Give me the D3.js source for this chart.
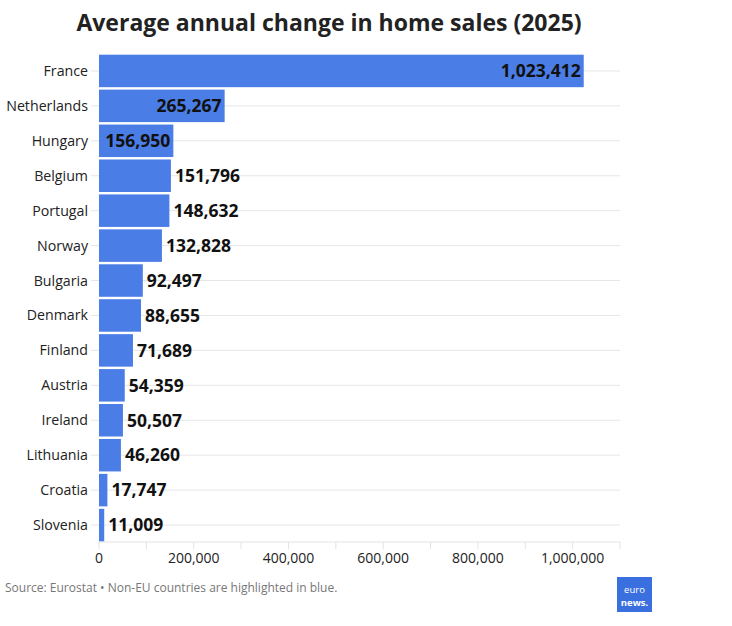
<html>
<head>
<meta charset="utf-8">
<style>
  body { margin: 0; background: #fff; }
  .country { font: 14.2px "Open Sans", sans-serif; fill: #222; }
  .val { font: bold 17.5px "Open Sans", sans-serif; fill: #111; }
  .axis text { font: 14px "Open Sans", sans-serif; fill: #222; }
</style>
</head>
<body>
<script src="https://cdn.jsdelivr.net/npm/d3@7"></script>
<script>
var countries = ["France", "Netherlands", "Hungary", "Belgium", "Portugal", "Norway", "Bulgaria",
                 "Denmark", "Finland", "Austria", "Ireland", "Lithuania", "Croatia", "Slovenia"];
var sales = [1023412, 265267, 156950, 151796, 148632, 132828, 92497,
             88655, 71689, 54359, 50507, 46260, 17747, 11009];
var majorTicks = [0, 200000, 400000, 600000, 800000, 1000000];
var minorTicks = [100000, 300000, 500000, 700000, 900000, 1100000];

var width = 732, height = 626;
var margin = {left: 99, right: 112, top: 54, bottom: 84};

var svg = d3.select("body").append("svg")
    .attr("width", width)
    .attr("height", height);

svg.append("text")
    .attr("x", 329).attr("y", 31)
    .attr("text-anchor", "middle")
    .style("font", "bold 23px 'Open Sans', sans-serif")
    .attr("fill", "#222")
    .text("Average annual change in home sales (2025)");

var x = d3.scaleLinear().domain([0, 1100000]).range([margin.left, width - margin.right]);
var y = d3.scaleBand().domain(countries).range([margin.top, height - margin.bottom]).paddingInner(0.07).paddingOuter(0.02);

// gridlines at band centres
svg.append("g")
  .selectAll("line")
  .data(countries)
  .join("line")
    .attr("x1", margin.left - 8)
    .attr("x2", x(1100000))
    .attr("y1", d => y(d) + y.bandwidth() / 2)
    .attr("y2", d => y(d) + y.bandwidth() / 2)
    .attr("stroke", "#e6e6e6");

// axis
var axisY = height - margin.bottom;
var ax = svg.append("g").attr("class", "axis");
ax.append("line")
    .attr("x1", x(0)).attr("x2", x(1100000))
    .attr("y1", axisY).attr("y2", axisY)
    .attr("stroke", "#e3e3e3");
ax.selectAll("line.tick")
  .data(majorTicks.concat(minorTicks))
  .join("line")
    .attr("class", "tick")
    .attr("x1", d => x(d)).attr("x2", d => x(d))
    .attr("y1", axisY).attr("y2", axisY + 7)
    .attr("stroke", "#e3e3e3");
ax.selectAll("text")
  .data(majorTicks)
  .join("text")
    .attr("x", d => x(d))
    .attr("y", axisY + 21)
    .attr("text-anchor", "middle")
    .text(d => d3.format(",")(d));

var data = countries.map((c, i) => ({c: c, v: sales[i]}));

svg.append("g")
  .selectAll("rect")
  .data(data)
  .join("rect")
    .attr("x", x(0))
    .attr("y", d => y(d.c))
    .attr("width", d => x(d.v) - x(0))
    .attr("height", y.bandwidth())
    .attr("fill", "#4a7de6");

svg.append("g")
  .selectAll("text")
  .data(data)
  .join("text")
    .attr("class", "country")
    .attr("x", margin.left - 11)
    .attr("y", d => y(d.c) + y.bandwidth() / 2)
    .attr("dy", "0.35em")
    .attr("text-anchor", "end")
    .text(d => d.c);

var vals = svg.append("g")
  .selectAll("text")
  .data(data)
  .join("text")
    .attr("class", "val")
    .attr("y", d => y(d.c) + y.bandwidth() / 2)
    .attr("dy", "0.36em")
    .text(d => d3.format(",")(d.v));
// label inside the bar when it fits, otherwise just past its end
vals.each(function(d) {
  var w = this.getComputedTextLength();
  var bw = x(d.v) - x(0);
  var t = d3.select(this);
  if (w + 8 < bw) t.attr("x", x(d.v) - 3).attr("text-anchor", "end");
  else t.attr("x", x(d.v) + 4).attr("text-anchor", "start");
});

svg.append("text")
    .attr("x", 5).attr("y", 592)
    .style("font", "12px 'Open Sans', sans-serif")
    .attr("fill", "#777")
    .text("Source: Eurostat \u2022 Non-EU countries are highlighted in blue.");

// logo
var logo = svg.append("g").attr("transform", "translate(617,577)");
logo.append("rect").attr("width", 35).attr("height", 35).attr("fill", "#3a6fe0");
logo.append("text").attr("x", 17.5).attr("y", 16).attr("text-anchor", "middle")
    .style("font", "9.5px 'Open Sans', sans-serif").attr("fill", "#fff").text("euro");
logo.append("text").attr("x", 17.5).attr("y", 28.5).attr("text-anchor", "middle")
    .style("font", "bold 9.5px 'Open Sans', sans-serif").attr("fill", "#fff").text("news.");
</script>
</body>
</html>
